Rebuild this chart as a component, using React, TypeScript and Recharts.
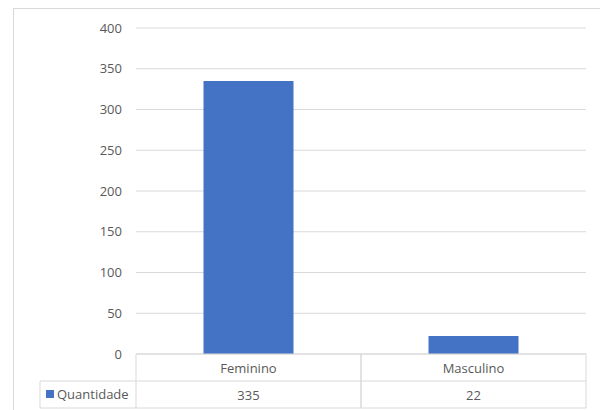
import { Bar, BarChart, CartesianGrid, XAxis, YAxis } from 'recharts'

const categories = ['Feminino', 'Masculino']
const quantidade = [335, 22]
const yTicks = [0, 50, 100, 150, 200, 250, 300, 350, 400]
const seriesName = 'Quantidade'

const chartData = categories.map((name, i) => ({ name, quantidade: quantidade[i] }))

const W = 600
const H = 410
const MARGIN = { top: 28, right: 14, left: 0, bottom: 2 }
const Y_AXIS_W = 136
const X_AXIS_H = 54
const ROW_H = 27
const PLOT_W = W - MARGIN.left - MARGIN.right - Y_AXIS_W
const CELL_W = PLOT_W / categories.length

const BLUE = '#4472C4'
const LINE = '#d9d9d9'
const TEXT = '#595959'
const FONT = '"Open Sans", sans-serif'

interface TableTickProps {
  x?: number
  y?: number
  index?: number
  payload?: { value: string; index?: number }
}

// data table under the plot: category row, then the value row with the legend cell
const TableTick = ({ x = 0, y = 0, index = 0, payload }: TableTickProps) => {
  const left = x - CELL_W / 2
  const right = x + CELL_W / 2
  const top = y
  const mid = y + ROW_H
  const bottom = y + ROW_H * 2
  const i = payload?.index ?? index
  return (
    <g>
      <line x1={left} x2={right} y1={top} y2={top} stroke={LINE} />
      <line x1={left} x2={right} y1={mid} y2={mid} stroke={LINE} />
      <line x1={left} x2={right} y1={bottom} y2={bottom} stroke={LINE} />
      <line x1={left} x2={left} y1={top} y2={bottom} stroke={LINE} />
      <line x1={right} x2={right} y1={top} y2={bottom} stroke={LINE} />
      <text x={x} y={top + 19} textAnchor="middle" fill={TEXT} fontSize={13} fontFamily={FONT}>
        {payload?.value}
      </text>
      <text x={x} y={mid + 19} textAnchor="middle" fill={TEXT} fontSize={13} fontFamily={FONT}>
        {quantidade[i]}
      </text>
      {i === 0 && (
        <g>
          <line x1={40} x2={left} y1={mid} y2={mid} stroke={LINE} />
          <line x1={40} x2={left} y1={bottom} y2={bottom} stroke={LINE} />
          <line x1={40} x2={40} y1={mid} y2={bottom} stroke={LINE} />
          <rect x={46} y={mid + 9} width={8} height={8} fill={BLUE} />
          <text x={57} y={mid + 18} fill={TEXT} fontSize={13} fontFamily={FONT}>
            {seriesName}
          </text>
        </g>
      )}
    </g>
  )
}

const App = () => {
  return (
    <div
      style={{
        position: 'absolute',
        left: 0,
        top: 0,
        width: W,
        height: H,
        overflow: 'hidden',
        background: '#fff',
      }}
    >
      <div
        style={{
          position: 'absolute',
          left: 13,
          top: 8,
          width: 700,
          height: 500,
          border: `1px solid ${LINE}`,
          boxSizing: 'border-box',
        }}
      />
      <div style={{ position: 'absolute', left: 0, top: 0 }}>
        <BarChart width={W} height={H} data={chartData} margin={MARGIN} barCategoryGap="30%">
          <CartesianGrid vertical={false} stroke={LINE} />
          <XAxis
            dataKey="name"
            height={X_AXIS_H}
            axisLine={false}
            tickLine={false}
            tickSize={0}
            tickMargin={0}
            interval={0}
            tick={<TableTick />}
          />
          <YAxis
            width={Y_AXIS_W}
            domain={[0, 400]}
            ticks={yTicks}
            axisLine={false}
            tickLine={false}
            tickMargin={8}
            tick={{ fill: TEXT, fontSize: 13, fontFamily: FONT }}
          />
          <Bar dataKey="quantidade" fill={BLUE} isAnimationActive={false} />
        </BarChart>
      </div>
    </div>
  )
}

export default App
